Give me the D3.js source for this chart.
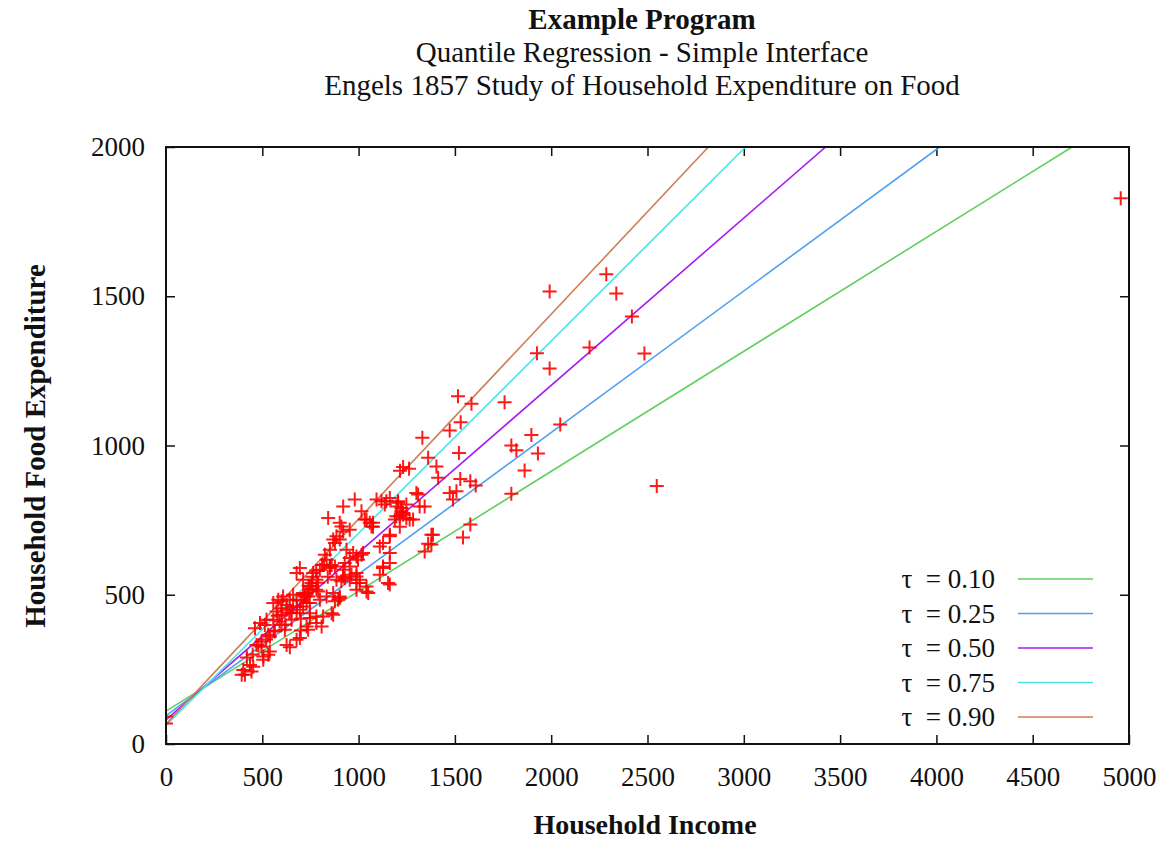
<!DOCTYPE html>
<html>
<head>
<meta charset="utf-8">
<script src="https://cdn.jsdelivr.net/npm/d3@7"></script>
<style>
  body { margin: 0; background: #fff; }
  text { font-family: "Liberation Serif", "Times New Roman", serif; fill: #111; }
</style>
</head>
<body>
<svg width="1157" height="842"></svg>
<script>
// quantile levels and the end points of each fitted line
let tauLabels = ['τ  = 0.10', 'τ  = 0.25', 'τ  = 0.50', 'τ  = 0.75', 'τ  = 0.90'],
    lineStartX = [0, 0, 0, 0, 0],
    lineStartY = [110, 95, 81, 62, 67],
    lineEndX = [4704, 4017, 3425, 3009, 2816],
    lineEndY = [2000, 2000, 2000, 2000, 2000];

let xTicks = [0, 500, 1000, 1500, 2000, 2500, 3000, 3500, 4000, 4500, 5000],
    yTicks = [0, 500, 1000, 1500, 2000];

let income = [
    4957, 2548, 1992, 2286, 2338, 2419, 2199, 2484, 1926, 1992,
    1516, 1586, 1758, 1530, 1473, 2047, 1897, 1793, 1819, 1931,
    1521, 1862, 1528, 1580, 1608, 1508, 1490, 1793, 1580, 1542,
    1331, 1361, 1404, 1413, 1231, 1262, 1215, 1309, 1473, 1119,
    1317, 1162, 1127, 1378, 1075, 1361, 1093, 1136, 1205, 1231,
    1188, 1214, 1075, 980, 842, 1162, 1205, 1222, 1248, 1214,
    1300, 1343, 1265, 1162, 1110, 1386, 1162, 1041, 1006, 1127,
    1162, 1110, 920, 1015, 1032, 1058, 721, 747, 790, 825,
    851, 877, 885, 902, 937, 954, 972, 989, 1015, 920,
    954, 902, 868, 834, 851, 799, 764, 885, 920, 954,
    989, 1006, 868, 902, 920, 1144, 1196, 1222, 1196, 1231,
    1248, 1283, 1041, 1067, 911, 1023, 997, 1378, 1343, 1162,
    1127, 1153, 1041, 954, 989, 678, 712, 401, 444, 453,
    410, 531, 505, 470, 496, 643, 695, 462, 513, 557,
    574, 600, 652, 678, 738, 808, 868, 894, 1050, 695,
    712, 738, 781, 851, 877, 928, 910, 928, 963, 989,
    557, 583, 608, 626, 643, 600, 617, 695, 712, 730,
    747, 781, 799, 834, 436, 393, 539, 505, 488, 522,
    531, 565, 496, 626, 678, 700, 730, 747, 781, 816,
    860, 877, 902, 989, 600, 626, 660, 600, 678, 747,
    730, 781, 755, 700, 720, 740, 760, 780, 810, 760,
    790, 820, 840, 860, 680, 650, 700, 620, 640, 660,
    590, 560, 580, 540, 520, 480, 450, 420, 0, 0
];
let foodexp = [
    1828, 864, 1516, 1574, 1509, 1432, 1328, 1308, 1309, 1258,
    1165, 1140, 1145, 1078, 1050, 1070, 1035, 1000, 984, 973,
    975, 916, 888, 880, 866, 847, 819, 838, 735, 692,
    1026, 959, 930, 892, 928, 922, 915, 836, 841, 813,
    796, 701, 673, 701, 741, 671, 819, 802, 808, 774,
    752, 728, 728, 819, 757, 824, 813, 791, 802, 763,
    841, 796, 752, 696, 662, 701, 534, 511, 539, 595,
    606, 567, 796, 780, 752, 741, 494, 528, 511, 634,
    651, 673, 696, 685, 651, 623, 640, 628, 634, 712,
    718, 741, 685, 617, 595, 584, 573, 550, 561, 550,
    539, 550, 506, 494, 584, 813, 796, 780, 763, 768,
    757, 752, 752, 729, 729, 640, 617, 668, 645, 640,
    590, 539, 528, 595, 561, 573, 550, 248, 243, 259,
    232, 299, 293, 332, 343, 324, 355, 388, 399, 416,
    444, 455, 416, 438, 383, 394, 433, 483, 506, 590,
    506, 494, 550, 590, 595, 606, 545, 556, 567, 573,
    472, 483, 494, 466, 483, 399, 383, 450, 461, 472,
    438, 427, 483, 494, 265, 232, 310, 282, 405, 416,
    366, 377, 326, 332, 349, 380, 394, 422, 405, 427,
    438, 478, 489, 517, 433, 450, 461, 478, 483, 472,
    506, 517, 539, 480, 500, 530, 560, 580, 600, 520,
    540, 600, 560, 600, 460, 440, 420, 400, 440, 500,
    410, 380, 430, 360, 350, 330, 300, 290, 92, 69
];

let lineColors = ['#5fcf5f', '#4f9ff2', '#a41cf0', '#48e6e6', '#cf7d55'];

let svg = d3.select('svg'),
    x = d3.scaleLinear().domain([0, 5000]).range([166, 1129]),
    y = d3.scaleLinear().domain([0, 2000]).range([744, 147]);

// titles
let titles = ['Example Program', 'Quantile Regression - Simple Interface',
              'Engels 1857 Study of Household Expenditure on Food'];
svg.selectAll('.title')
    .data(titles)
    .enter()
    .append('text')
    .attr('class', 'title')
    .attr('x', 642)
    .attr('y', (d, i) => 29 + i * 33)
    .attr('text-anchor', 'middle')
    .style('font-size', '29px')
    .style('font-weight', (d, i) => i === 0 ? 'bold' : 'normal')
    .text(d => d);

// axes, ticks point inward on all four sides
svg.append('g')
    .attr('transform', `translate(0,${y(0)})`)
    .call(d3.axisBottom(x).tickValues(xTicks).tickSize(-9).tickPadding(23).tickFormat(d3.format('d')))
    .call(g => g.select('.domain').remove());

svg.append('g')
    .attr('transform', `translate(0,${y(2000)})`)
    .call(d3.axisTop(x).tickValues(xTicks.slice(1, -1)).tickSize(-9).tickFormat(''))
    .call(g => g.select('.domain').remove());

svg.append('g')
    .attr('transform', `translate(${x(0)},0)`)
    .call(d3.axisLeft(y).tickValues(yTicks).tickSize(-9).tickPadding(21).tickFormat(d3.format('d')))
    .call(g => g.select('.domain').remove());

svg.append('g')
    .attr('transform', `translate(${x(5000)},0)`)
    .call(d3.axisRight(y).tickValues(yTicks.slice(1, -1)).tickSize(-9).tickFormat(''))
    .call(g => g.select('.domain').remove());

svg.selectAll('.tick line').attr('stroke', '#111').attr('stroke-width', 1.5);
svg.selectAll('.tick text')
    .style('font-size', '27px')
    .style('font-family', '"Liberation Serif", "Times New Roman", serif')
    .attr('fill', '#222');

// quantile regression lines
svg.append('clipPath').attr('id', 'plot-clip')
    .append('rect')
    .attr('x', x(0)).attr('y', y(2000))
    .attr('width', x(5000) - x(0)).attr('height', y(0) - y(2000));

let plot = svg.append('g').attr('clip-path', 'url(#plot-clip)');

plot.selectAll('.qline')
    .data(tauLabels)
    .enter()
    .append('line')
    .attr('class', 'qline')
    .attr('x1', (d, i) => x(lineStartX[i]))
    .attr('y1', (d, i) => y(lineStartY[i]))
    .attr('x2', (d, i) => x(lineEndX[i]))
    .attr('y2', (d, i) => y(lineEndY[i]))
    .attr('stroke', (d, i) => lineColors[i])
    .attr('stroke-width', 1.6);

// observations as red crosses
plot.selectAll('.obs')
    .data(income)
    .enter()
    .append('path')
    .attr('class', 'obs')
    .attr('transform', (d, i) => `translate(${x(d)},${y(foodexp[i])})`)
    .attr('d', 'M-7,0H7M0,-7V7')
    .attr('stroke', '#ff0000')
    .attr('stroke-width', 2)
    .attr('stroke-opacity', 0.9)
    .attr('fill', 'none');

// frame
svg.append('rect')
    .attr('x', x(0)).attr('y', y(2000))
    .attr('width', x(5000) - x(0)).attr('height', y(0) - y(2000))
    .attr('fill', 'none')
    .attr('stroke', '#111')
    .attr('stroke-width', 2);

// legend
let legend = svg.selectAll('.legend')
    .data(tauLabels)
    .enter()
    .append('g')
    .attr('class', 'legend')
    .attr('transform', (d, i) => `translate(0,${579 + i * 34.5})`);

legend.append('text')
    .attr('x', 995)
    .attr('y', 9)
    .attr('text-anchor', 'end')
    .style('font-size', '27px')
    .style('white-space', 'pre')
    .attr('fill', '#222')
    .text(d => d);

legend.append('line')
    .attr('x1', 1018).attr('x2', 1093)
    .attr('y1', 0).attr('y2', 0)
    .attr('stroke', (d, i) => lineColors[i])
    .attr('stroke-width', 1.6);

// axis titles
svg.append('text')
    .attr('x', 645)
    .attr('y', 834)
    .attr('text-anchor', 'middle')
    .style('font-size', '28px')
    .style('font-weight', 'bold')
    .text('Household Income');

svg.append('text')
    .attr('transform', 'translate(45,446) rotate(-90)')
    .attr('text-anchor', 'middle')
    .style('font-size', '29px')
    .style('font-weight', 'bold')
    .text('Household Food Expenditure');
</script>
</body>
</html>
